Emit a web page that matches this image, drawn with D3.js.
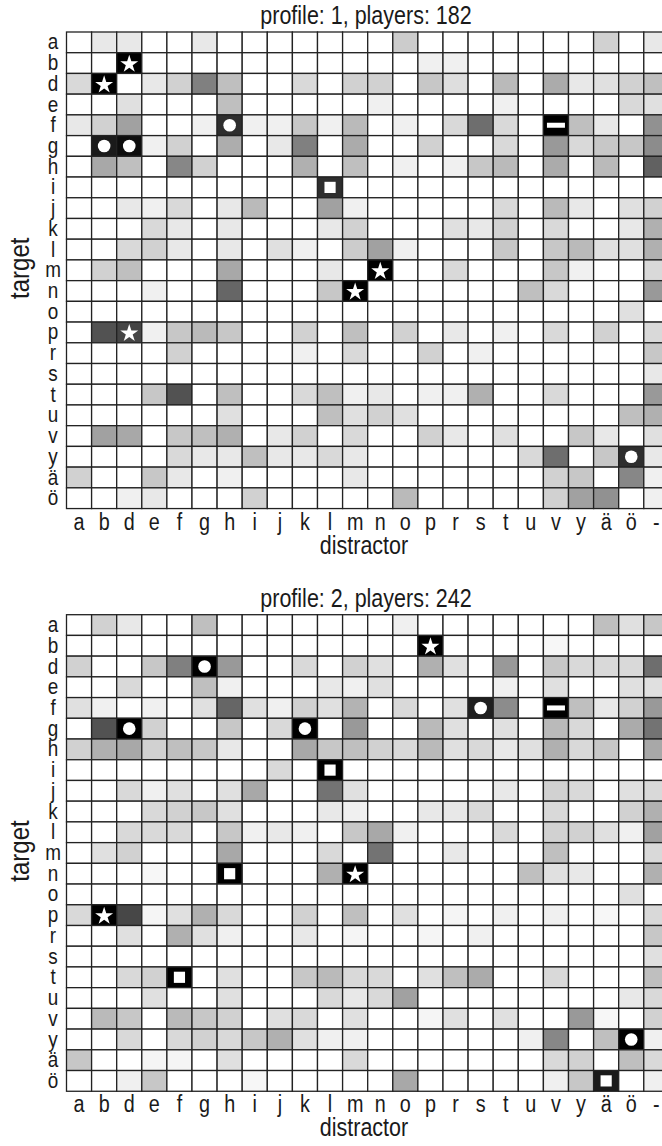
<!DOCTYPE html>
<html>
<head>
<meta charset="utf-8">
<script src="https://cdn.jsdelivr.net/npm/d3@7"></script>
<style>
  body { margin: 0; background: #fff; }
  svg { display: block; }
  text { font-family: "Liberation Sans", Arial, sans-serif; fill: #1a1a1a; }
</style>
</head>
<body>
<svg id="chart" width="662" height="1146"></svg>
<script>
// distractor letters (x) and target letters (y)
const distractors = ["a","b","d","e","f","g","h","i","j","k","l","m","n","o","p","r","s","t","u","v","y","ä","ö","-"];
const targets = ["a","b","d","e","f","g","h","i","j","k","l","m","n","o","p","r","s","t","u","v","y","ä","ö"];

// share of confusions (%), one row per target
const profile1 = [
  [0,9,9,0,0,9,0,0,0,0,0,0, 0,20,0,0,0,0,0,0,0,18,0,9],
  [0,0,100,0,0,0,0,0,0,0,0,0, 0,0,6,6,0,0,0,0,0,0,0,0],
  [15,100,0,9,18,50,25,0,0,15,0,18, 18,0,22,13,0,27,0,33,9,12,18,25],
  [0,0,12,0,0,0,25,0,0,0,0,0, 6,0,0,0,0,6,0,0,0,0,15,12],
  [9,18,37,0,0,6,82,6,6,22,6,27, 0,6,0,15,57,15,0,100,25,9,0,43],
  [0,90,95,6,18,0,32,0,9,50,0,33, 0,0,18,0,0,15,0,40,15,22,22,45],
  [0,34,25,0,47,18,0,0,0,31,0,25, 0,6,0,6,22,27,0,33,0,27,0,62],
  [0,0,0,0,0,0,0,0,0,0,82,0, 0,0,0,0,0,0,0,0,0,0,0,0],
  [0,0,9,6,15,0,9,27,0,0,37,6, 0,0,0,0,0,15,0,27,9,0,12,18],
  [0,0,0,15,9,0,9,0,0,0,9,18, 0,0,0,12,9,18,0,15,0,0,9,31],
  [0,0,15,18,9,0,9,0,12,6,0,20, 37,6,0,0,0,22,0,22,27,12,12,31],
  [0,18,25,0,0,0,34,0,0,0,9,0, 100,0,0,15,0,0,0,22,6,0,0,15],
  [0,0,0,6,0,0,60,0,0,0,22,100, 0,0,0,0,0,0,25,15,0,0,0,40],
  [0,0,0,0,0,0,0,0,0,0,0,0, 0,0,0,0,0,0,0,0,0,0,12,0],
  [0,68,73,6,22,27,22,0,0,18,0,25, 0,18,0,9,0,6,0,15,0,18,0,15],
  [0,0,0,0,18,0,0,0,0,6,0,15, 0,0,18,0,6,0,0,0,0,0,0,22],
  [0,0,0,0,0,0,0,0,0,0,0,0, 0,0,0,0,0,0,0,0,0,0,0,9],
  [0,0,0,22,68,0,25,0,0,15,25,6, 9,0,6,6,31,0,0,15,0,0,0,40],
  [0,0,0,0,0,0,12,0,0,0,25,12, 18,12,0,0,0,0,0,0,0,0,25,31],
  [0,37,34,0,22,25,31,0,9,18,0,15, 0,0,18,9,0,12,0,0,22,9,0,12],
  [0,0,0,0,15,9,9,25,9,9,15,9, 0,0,0,0,0,0,15,57,0,22,82,9],
  [18,0,0,22,9,0,6,0,0,0,0,9, 0,0,0,0,0,0,0,18,22,0,47,6],
  [0,0,6,9,0,0,0,18,0,0,0,0, 0,27,0,0,0,0,0,18,37,43,0,6]
];

const profile2 = [
  [0,18,9,0,0,25,0,0,0,0,0,0, 0,6,0,0,0,0,0,0,0,25,12,22],
  [0,0,0,0,0,0,0,0,0,0,0,0, 0,0,100,0,0,0,0,3,0,0,0,0],
  [18,0,0,22,50,100,40,0,0,15,0,18, 12,0,31,12,0,40,0,22,15,15,15,57],
  [0,0,15,0,0,25,6,0,0,0,9,6, 12,0,0,0,0,6,0,12,0,0,12,12],
  [12,6,0,6,0,12,60,12,6,18,12,30, 0,15,0,12,88,45,0,100,25,9,18,40],
  [0,68,100,18,0,0,22,0,15,100,0,40, 0,0,27,12,0,12,0,27,15,0,33,55],
  [18,31,34,18,25,22,9,0,0,34,22,25, 18,15,27,12,15,9,12,31,15,22,0,34],
  [0,0,0,0,0,0,0,0,15,0,100,0, 0,0,0,0,0,0,0,0,0,0,0,0],
  [0,0,15,6,12,0,12,34,0,0,55,12, 0,0,0,0,0,9,0,18,15,0,12,15],
  [0,0,0,15,18,22,12,0,0,0,9,6, 0,0,9,9,15,0,0,15,0,0,18,31],
  [0,0,15,15,15,0,22,6,9,6,0,22, 34,6,0,0,0,15,0,18,18,12,6,37],
  [0,12,18,0,0,0,34,0,0,0,15,0, 55,0,0,9,0,0,0,25,0,0,0,15],
  [0,0,0,3,0,0,100,0,0,0,31,100, 0,0,0,0,0,0,25,12,9,0,0,31],
  [0,0,0,0,0,0,0,0,0,0,0,0, 0,0,0,0,0,0,0,0,0,0,12,0],
  [15,100,72,4,12,31,15,0,0,18,0,25, 0,12,0,4,0,6,0,6,0,3,0,15],
  [0,0,12,0,31,12,6,0,0,9,0,4, 0,0,4,0,6,0,0,0,0,0,0,22],
  [0,0,0,0,0,0,0,0,0,0,0,0, 0,0,0,0,0,0,0,0,0,0,0,12],
  [0,0,15,18,100,0,12,0,0,22,27,15, 15,0,12,25,33,0,0,15,0,0,0,25],
  [0,0,0,12,0,0,12,0,0,0,15,9, 15,37,0,0,0,0,0,0,0,0,9,15],
  [0,27,22,0,27,22,18,0,12,15,0,12, 0,0,4,12,0,12,0,0,40,3,0,18],
  [0,0,15,0,15,18,15,22,31,12,6,6, 0,0,0,0,0,0,6,47,0,25,100,6],
  [22,0,0,4,4,0,12,0,0,0,0,15, 0,0,0,0,0,0,0,15,18,0,25,15],
  [0,0,6,22,0,0,0,3,0,0,0,0, 0,34,0,0,0,0,0,6,22,90,0,6]
];

// [target, distractor, marker]
const markers1 = [
  ["b","d","star"], ["d","b","star"], ["m","n","star"], ["n","m","star"], ["p","d","star"],
  ["f","h","circle"], ["g","b","circle"], ["g","d","circle"], ["y","ö","circle"],
  ["i","l","square"], ["f","v","dash"]
];
const markers2 = [
  ["b","p","star"], ["n","m","star"], ["p","b","star"],
  ["d","g","circle"], ["g","d","circle"], ["g","k","circle"], ["f","s","circle"], ["y","ö","circle"],
  ["i","l","square"], ["n","h","square"], ["t","f","square"], ["ö","ä","square"],
  ["f","v","dash"]
];

const titles = ["profile: 1, players: 182", "profile: 2, players: 242"];

const svg = d3.select("#chart");
const left = 66.5, cellW = 25.1, cellH = 20.72;
const squeeze = 0.86; // narrow the sans face to look like a condensed one
const grey = d3.scaleLinear().domain([0, 100]).range(["#ffffff", "#000000"]);

function drawPanel(values, markers, title, top) {
  const x = d3.scaleBand().domain(distractors).range([left, left + cellW * distractors.length]);
  const y = d3.scaleBand().domain(targets).range([top, top + cellH * targets.length]);
  const g = svg.append("g");

  const cells = [];
  values.forEach((row, i) => row.forEach((v, j) => cells.push({ t: targets[i], d: distractors[j], v })));

  g.selectAll("rect.cell")
    .data(cells)
    .enter()
    .append("rect")
    .attr("class", "cell")
    .attr("x", d => x(d.d))
    .attr("y", d => y(d.t))
    .attr("width", x.bandwidth())
    .attr("height", y.bandwidth())
    .attr("fill", d => grey(d.v))
    .attr("stroke", "#222")
    .attr("stroke-width", 1.3);

  // white markers on the dark cells
  const sym = { star: d3.symbolStar, circle: d3.symbolCircle, square: d3.symbolSquare };
  const size = { star: 100, circle: 125, square: 125 };
  markers.forEach(([t, d, kind]) => {
    const cx = x(d) + x.bandwidth() / 2, cy = y(t) + y.bandwidth() / 2;
    if (kind === "dash") {
      g.append("rect")
        .attr("x", cx - 9).attr("y", cy - 2.5)
        .attr("width", 18).attr("height", 5)
        .attr("fill", "#fff");
    } else {
      g.append("path")
        .attr("transform", `translate(${cx},${cy + (kind === "star" ? 1 : 0)})`)
        .attr("d", d3.symbol().type(sym[kind]).size(size[kind])())
        .attr("fill", "#fff");
    }
  });

  // axes
  const bottom = top + cellH * targets.length;
  const xAxis = g.append("g")
    .attr("transform", `translate(0,${bottom})`)
    .call(d3.axisBottom(x).tickSize(0));
  xAxis.select(".domain").remove();
  xAxis.selectAll("text")
    .attr("y", 21).attr("dy", 0)
    .attr("transform", `scale(${squeeze},1)`)
    .attr("font-size", 23).style("font-family", null);

  const yAxis = g.append("g")
    .attr("transform", `translate(${left},0)`)
    .call(d3.axisLeft(y).tickSize(0));
  yAxis.select(".domain").remove();
  yAxis.selectAll("text")
    .attr("x", -13.5 / squeeze).attr("text-anchor", "middle")
    .attr("transform", `scale(${squeeze},1)`)
    .attr("font-size", 22).style("font-family", null);

  g.append("text")
    .attr("transform", `translate(366,${top - 8}) scale(${squeeze},1)`)
    .attr("text-anchor", "middle")
    .attr("font-size", 25)
    .text(title);

  g.append("text")
    .attr("transform", `translate(364,${bottom + 45}) scale(${squeeze},1)`)
    .attr("text-anchor", "middle")
    .attr("font-size", 25)
    .text("distractor");

  g.append("text")
    .attr("transform", `translate(29,${(top + bottom) / 2 - 2}) rotate(-90) scale(${squeeze},1)`)
    .attr("text-anchor", "middle")
    .attr("font-size", 28)
    .text("target");
}

drawPanel(profile1, markers1, titles[0], 32);
drawPanel(profile2, markers2, titles[1], 614.7);
</script>
</body>
</html>
